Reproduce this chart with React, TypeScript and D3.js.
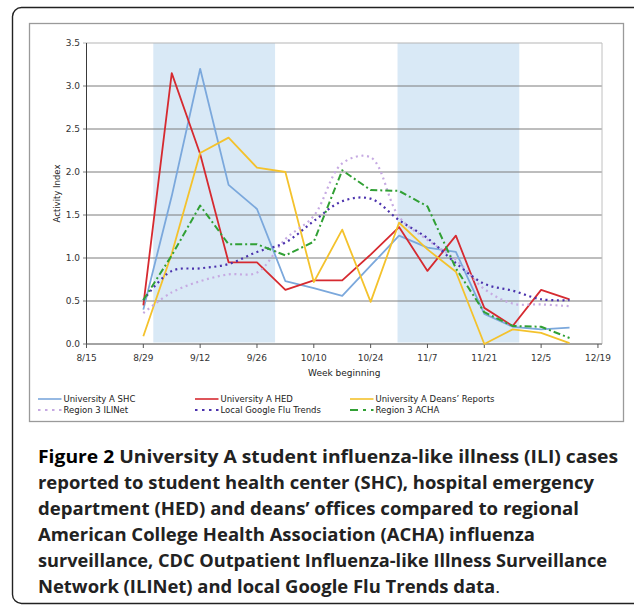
import React from 'react';
import * as d3 from 'd3';

const weeks = ["8/29","9/5","9/12","9/19","9/26","10/3","10/10","10/17","10/24","10/31","11/7","11/14","11/21","11/28","12/5","12/12"];
const shcValues = [0.40, 1.72, 3.20, 1.85, 1.57, 0.73, 0.65, 0.56, 0.91, 1.26, 1.12, 1.07, 0.35, 0.20, 0.17, 0.19];
const hedValues = [0.45, 3.15, 2.21, 0.95, 0.95, 0.63, 0.74, 0.74, 1.04, 1.36, 0.85, 1.26, 0.42, 0.21, 0.63, 0.52];
const deansValues = [0.09, 1.05, 2.22, 2.40, 2.05, 2.00, 0.72, 1.33, 0.49, 1.41, 1.10, 0.84, 0.00, 0.17, 0.13, 0.01];
const ilinetValues = [0.36, 0.60, 0.73, 0.81, 0.83, 1.22, 1.49, 2.10, 2.17, 1.48, 1.21, 0.98, 0.64, 0.47, 0.46, 0.44];
const googleValues = [0.51, 0.85, 0.88, 0.93, 1.07, 1.18, 1.43, 1.66, 1.69, 1.44, 1.23, 0.94, 0.70, 0.62, 0.52, 0.51];
const achaValues = [0.51, 1.03, 1.61, 1.16, 1.16, 1.03, 1.19, 2.02, 1.79, 1.78, 1.60, 0.88, 0.37, 0.21, 0.20, 0.07];

const xTickLabels = ["8/15","8/29","9/12","9/26","10/10","10/24","11/7","11/21","12/5","12/19"];
const yTickValues = [0, 0.5, 1.0, 1.5, 2.0, 2.5, 3.0, 3.5];
const shadePeriods = [["2009-08-31T11:00Z","2009-09-30T11:00Z"],["2009-10-30T15:00Z","2009-11-29T15:00Z"]];
const xDomain = ["8/15", "12/20"];

const captionLines = [
  ["Figure 2", " University A student influenza-like illness (ILI) cases", ""],
  ["", "reported to student health center (SHC), hospital emergency", ""],
  ["", "department (HED) and deans\u2019 offices compared to regional", ""],
  ["", "American College Health Association (ACHA) influenza", ""],
  ["", "surveillance, CDC Outpatient Influenza-like Illness Surveillance", ""],
  ["", "Network (ILINet) and local Google Flu Trends data", "."],
];
const captionWidths = [580, 556, 541, 497, 569, 462];

const parseMD = (s: string) => {
  const [m, d] = s.split("/").map(Number);
  return new Date(Date.UTC(2009, m - 1, d));
};

const series = [
  { name: "University A SHC", values: shcValues, color: "#7ba8dc", dash: null, width: 1.8, smooth: false, legendDash: null },
  { name: "University A HED", values: hedValues, color: "#d62a30", dash: null, width: 1.8, smooth: false, legendDash: null },
  { name: "University A Deans\u2019 Reports", values: deansValues, color: "#f4c22c", dash: null, width: 1.8, smooth: false, legendDash: null },
  { name: "Region 3 ILINet", values: ilinetValues, color: "#c6aae2", dash: "2,3.6", width: 2.2, smooth: true, legendDash: "2.5,4.5" },
  { name: "Local Google Flu Trends", values: googleValues, color: "#4b32ad", dash: "2,3.6", width: 2.2, smooth: true, legendDash: "2.5,4.5" },
  { name: "Region 3 ACHA", values: achaValues, color: "#31a035", dash: "7,3,2,3", width: 2, smooth: false, legendDash: "8,5,3,5" },
];

export default function App() {
  const left = 86.5, right = 602, top = 43, bottom = 344;
  const x = d3.scaleUtc().domain(xDomain.map(parseMD)).range([left, right]);
  const y = d3.scaleLinear().domain([0, 3.5]).range([bottom, top]);
  const dates = weeks.map(parseMD);
  const chartFont = "'DejaVu Sans', Verdana, sans-serif";

  const legendCols = [38, 195, 350];
  const legendRows = [399, 410];

  return (
    <svg width={634} height={606} style={{ position: "absolute", left: 0, top: 0, background: "#fff" }}>
      {/* outer frame */}
      <rect x={12.5} y={7.5} width={630} height={596} rx={9} fill="#fff" stroke="#222" strokeWidth={1.4} />
      {/* chart frame */}
      <rect x={29.5} y={23.5} width={594} height={398} fill="#fff" stroke="#9a9a9a" strokeWidth={1.3} />

      {/* shading */}
      {shadePeriods.map(([a, b], i) => (
        <rect key={i} x={x(new Date(a))} y={top} width={x(new Date(b)) - x(new Date(a))} height={bottom - top - 1.5} fill="#d9e9f6" />
      ))}

      {/* gridlines */}
      {yTickValues.map((v) => (
        <line key={v} x1={left - 3.5} x2={right} y1={y(v)} y2={y(v)}
          stroke={v === 3.5 ? "#b5b5b5" : "#7d7d7d"} strokeWidth={1} />
      ))}
      <line x1={right} x2={right} y1={top} y2={bottom} stroke="#c0c0c0" strokeWidth={1} />
      <line x1={left} x2={left} y1={top} y2={bottom} stroke="#3a3a3a" strokeWidth={1} />
      <line x1={left} x2={right} y1={bottom} y2={bottom} stroke="#8a8a8a" strokeWidth={1.2} />

      {/* y tick labels */}
      {yTickValues.map((v) => (
        <text key={v} x={80} y={y(v) + 3.2} textAnchor="end" fontSize={9} fontFamily={chartFont} fill="#333">
          {d3.format(".1f")(v)}
        </text>
      ))}
      {/* x ticks */}
      {xTickLabels.map((t) => (
        <g key={t}>
          <line x1={x(parseMD(t))} x2={x(parseMD(t))} y1={bottom} y2={bottom + 4} stroke="#555" strokeWidth={1} />
          <text x={x(parseMD(t))} y={360.5} textAnchor="middle" fontSize={9} fontFamily={chartFont} fill="#333">{t}</text>
        </g>
      ))}
      <text x={(left + right) / 2} y={376} textAnchor="middle" fontSize={9} fontFamily={chartFont} fill="#222">Week beginning</text>
      <text transform={`translate(60,${(top + bottom) / 2}) rotate(-90)`} textAnchor="middle" fontSize={8.5} fontFamily={chartFont} fill="#222">Activity Index</text>

      {/* series */}
      {series.map((s) => {
        const line = d3.line<number>()
          .x((_, i) => x(dates[i]))
          .y((d) => y(d))
          .curve(s.smooth ? d3.curveCatmullRom.alpha(0.5) : d3.curveLinear);
        return (
          <path key={s.name} d={line(s.values) || ""} fill="none" stroke={s.color} strokeWidth={s.width}
            strokeDasharray={s.dash || undefined} strokeLinejoin="round" />
        );
      })}

      {/* legend */}
      {series.map((s, i) => {
        const cx = legendCols[i % 3];
        const cy = legendRows[Math.floor(i / 3)];
        return (
          <g key={s.name}>
            <line x1={cx} x2={cx + 23.5} y1={cy} y2={cy} stroke={s.color} strokeWidth={s.legendDash ? 1.8 : 1.6}
              strokeDasharray={s.legendDash || undefined} />
            <text x={cx + 25.5} y={cy + 3} fontSize={8.5} fontFamily={chartFont} fill="#222">{s.name}</text>
          </g>
        );
      })}

      {/* caption */}
      {captionLines.map((parts, i) => (
        <text key={i} x={38} y={462.5 + 26 * i} fontSize={17} fontFamily="'Open Sans', 'Noto Sans', sans-serif"
          textLength={captionWidths[i]} lengthAdjust="spacingAndGlyphs">
          {parts[0] ? <tspan fontWeight={700} fill="#000">{parts[0]}</tspan> : null}
          <tspan fontWeight={700} fill="#222">{parts[1]}</tspan>
          {parts[2] ? <tspan fontWeight={400} fill="#222">{parts[2]}</tspan> : null}
        </text>
      ))}
    </svg>
  );
}
